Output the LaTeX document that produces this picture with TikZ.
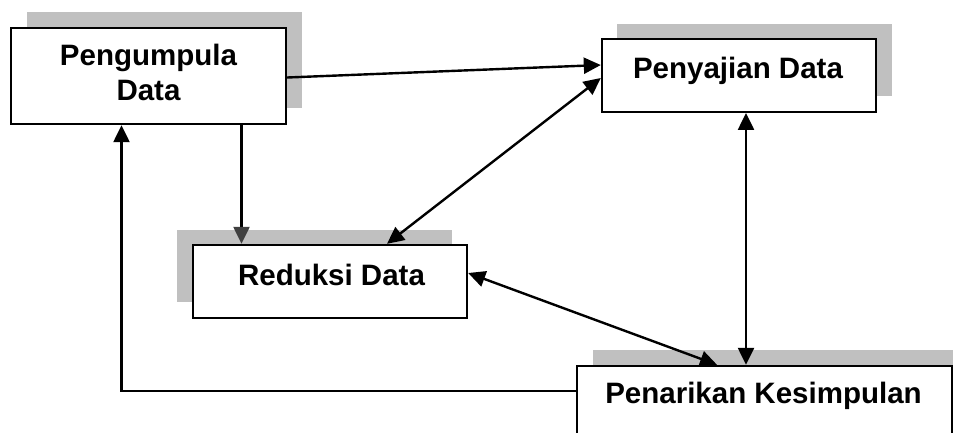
\documentclass[tikz,border=0pt]{standalone}
\usepackage{fontspec}
\setmainfont{Liberation Sans}
\usetikzlibrary{arrows.meta}
\definecolor{shadowgray}{HTML}{C0C0C0}
\tikzset{
  box/.style={draw=black, fill=white, line width=2.4pt, rectangle, inner sep=0pt},
  lbl/.style={anchor=base, inner sep=0pt, font=\fontsize{29.5}{35}\selectfont\bfseries},
  conn/.style={line width=2.4pt, draw=black},
  atip/.tip={Triangle[length=17pt,width=16pt]},
  gtip/.tip={Triangle[length=17pt,width=16pt,fill=black!75,color=black!75]},
  shadow/.style={fill=shadowgray}
}
\begin{document}
\begin{tikzpicture}[x=1pt,y=-1pt]
\useasboundingbox (0,0) rectangle (953,432);
% shadows
\fill[shadow] (27,12) rectangle (302,108);
\fill[shadow] (617,24) rectangle (892,96);
\fill[shadow] (177,230) rectangle (452,302);
\fill[shadow] (593,350) rectangle (960,440);
% boxes
\node[box, minimum width=275pt, minimum height=96pt] (b1) at (148.5,76) {};
\node[box, minimum width=274pt, minimum height=72.5pt] (b2) at (739,75.5) {};
\node[box, minimum width=274pt, minimum height=73pt] (b3) at (330,281.5) {};
\node[box, minimum width=375pt, minimum height=80pt] (b4) at (764.5,406) {};
% texts
\node[lbl] (t1a) at (148.5,65) {Pengumpula};
\node[lbl] (t1b) at (148.5,100) {Data};
\node[lbl] (t2) at (738,78) {Penyajian Data};
\node[lbl] (t3) at (331.5,285) {Reduksi Data};
\node[lbl] (t4) at (763.5,403) {Penarikan Kesimpulan};
% connectors
\draw[conn,-{atip}] ([yshift=-1.5pt]b1.east) -- ([yshift=10.5pt]b2.west);
\draw[conn,{atip}-{atip}] ([yshift=-2.5pt]b2.west) -- ([xshift=57pt]b3.north);
\draw[conn,-{gtip}] ([xshift=93pt]b1.south) -- ([xshift=93pt]b1.south |- b3.north);
\draw[conn,-{atip}] ([yshift=15pt]b4.west) -| ([xshift=-27pt]b1.south);
\draw[conn,{atip}-{atip}] ([xshift=7pt]b2.south) -- ([xshift=7pt]b2.south |- b4.north);
\draw[conn,{atip}-{atip}] ([yshift=8.5pt]b3.east) -- ([xshift=-47.5pt]b4.north);
\end{tikzpicture}
\end{document}
